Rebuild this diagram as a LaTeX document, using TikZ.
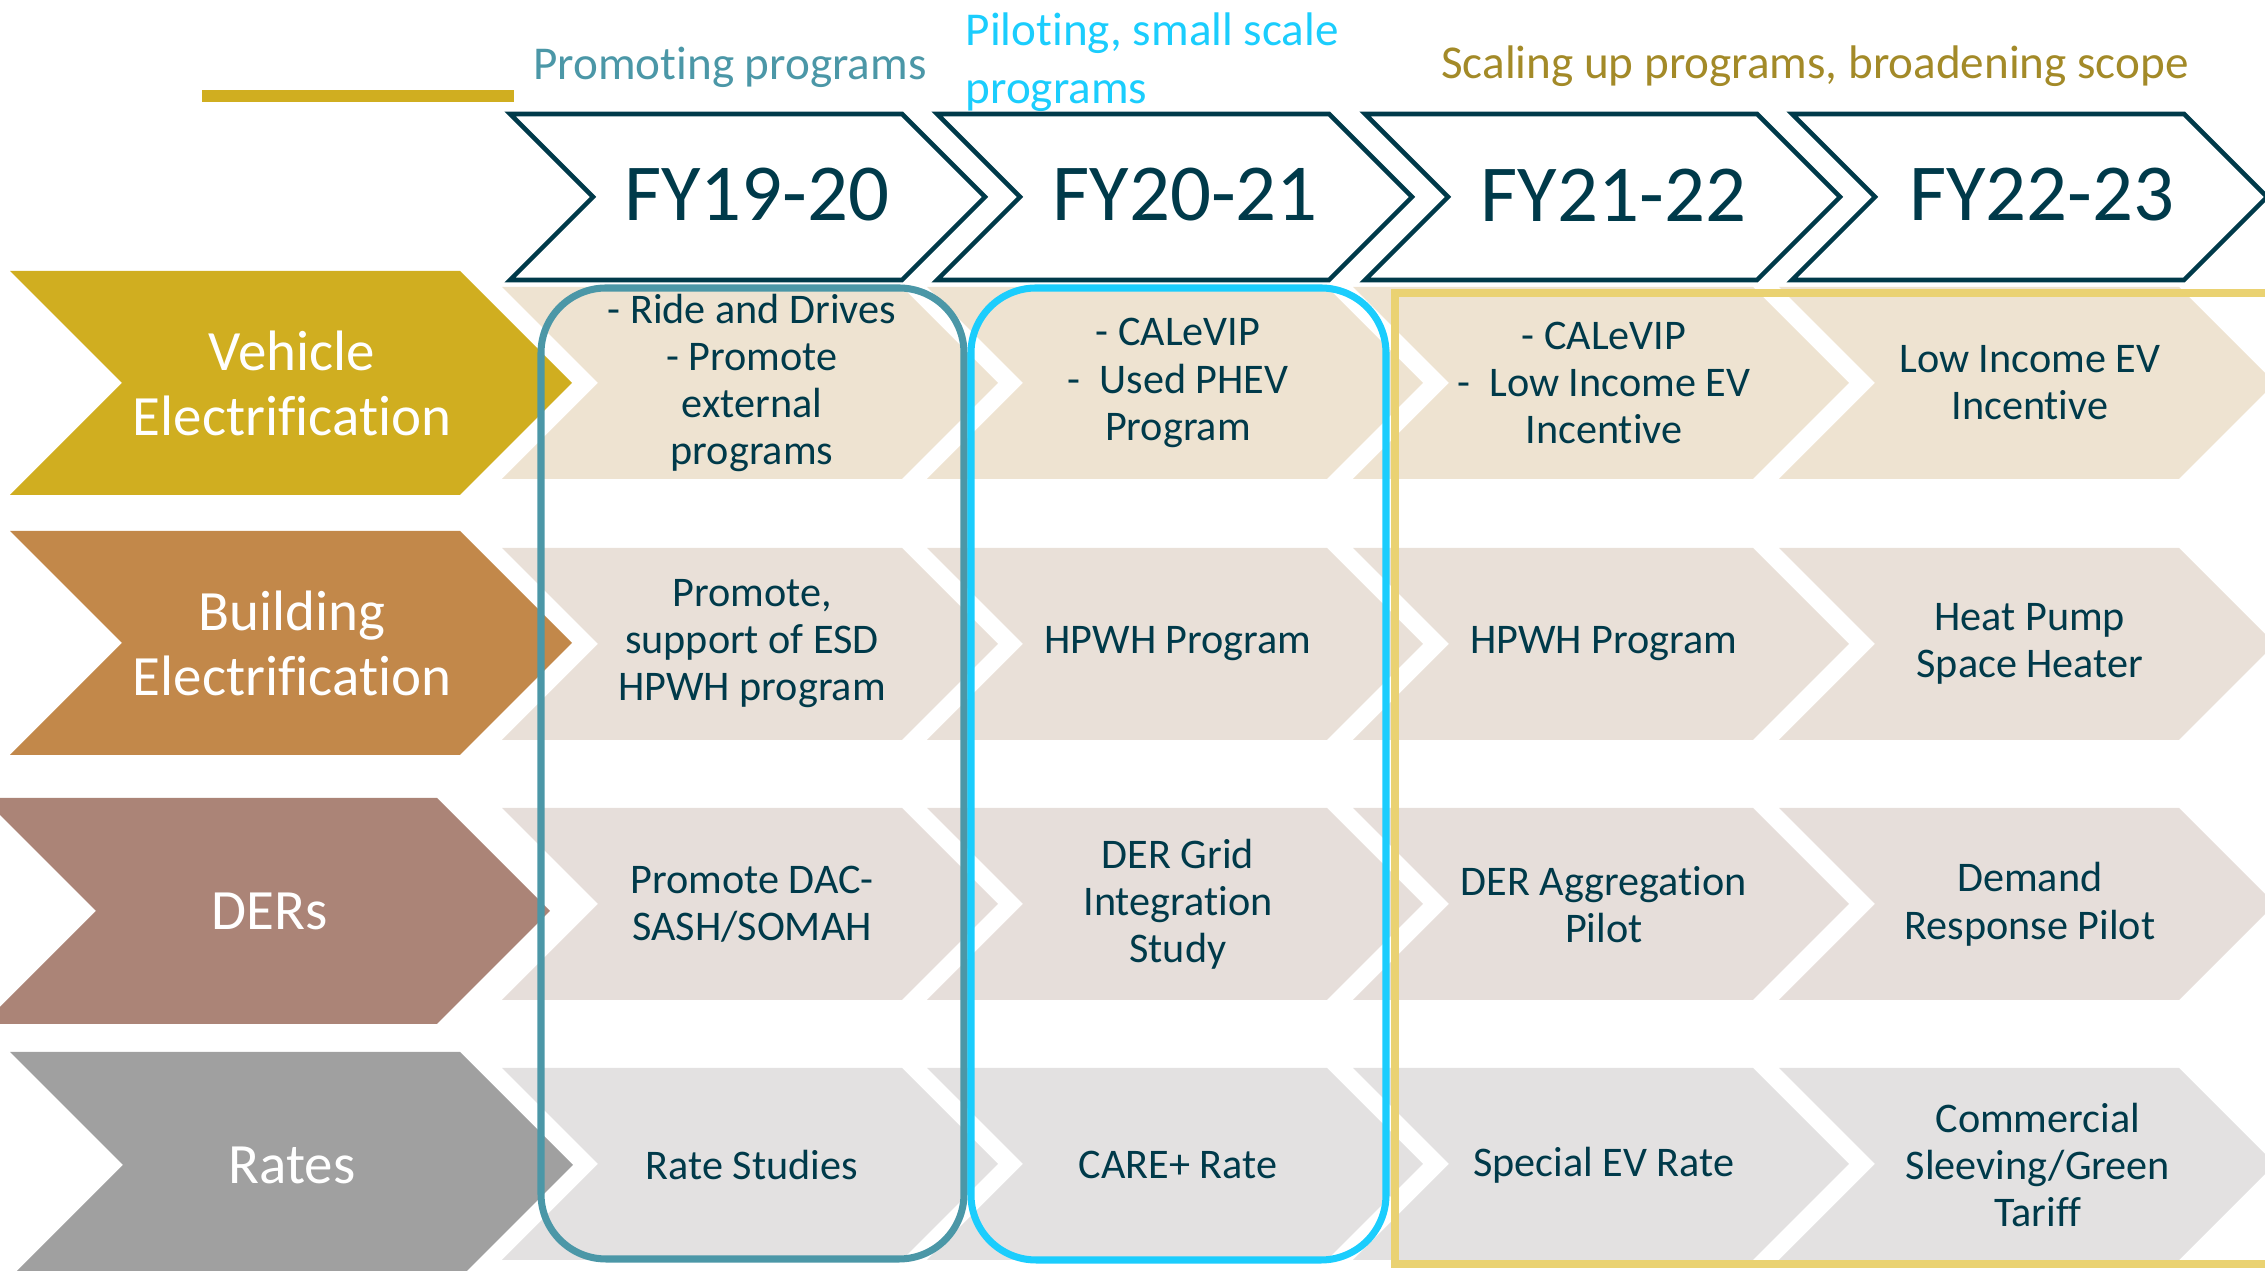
\documentclass[tikz,border=0pt]{standalone}
\usepackage{fontspec}
\setmainfont[Ligatures={NoCommon,NoContextual}]{Carlito}
\usepackage{xcolor}
\usetikzlibrary{positioning}
\definecolor{darkteal}{HTML}{003A4A}
\definecolor{vehyellow}{HTML}{D0AE20}
\definecolor{bldbrown}{HTML}{C2884A}
\definecolor{dermauve}{HTML}{AB8477}
\definecolor{rategrey}{HTML}{A0A0A0}
\definecolor{vehcell}{HTML}{EEE3D1}
\definecolor{bldcell}{HTML}{E9E0D8}
\definecolor{dercell}{HTML}{E6DEDA}
\definecolor{ratecell}{HTML}{E3E1E1}
\definecolor{promoteteal}{HTML}{4B97A7}
\definecolor{pilotcyan}{HTML}{1BCDFD}
\definecolor{scalegold}{HTML}{EAD272}
\definecolor{scaletext}{HTML}{A38A28}

% chevron outline: left x, middle y, top edge length, half height
\newcommand{\chevshape}[4]{(#1,#2-#4) -- ++(#3,0) -- ++(#4,#4) -- ++(-#4,#4) -- ++(-#3,0) -- ++(#4,-#4) -- cycle}

\begin{document}
\begin{tikzpicture}[x=0.01cm, y=-0.01cm,
    fylabel/.style={text=darkteal, font=\fontsize{23}{27}\selectfont},
    catlabel/.style={text=white, align=center, font=\fontsize{16.2}{18.5}\selectfont},
    cell/.style={text=darkteal, align=center, font=\fontsize{12}{13.4}\selectfont},
    phase/.style={font=\fontsize{13.4}{16.5}\selectfont, inner sep=0pt},
    fybox/.style={draw=darkteal, line width=1.3pt, fill=white, line join=miter},
    band/.style={line width=2pt, rounded corners=0.65cm}]
    \useasboundingbox (0,0) rectangle (2265,1271);

    % Program cells
    \fill[vehcell] \chevshape{502}{383}{400}{96};
    \fill[vehcell] \chevshape{927}{383}{400}{96};
    \fill[vehcell] \chevshape{1353}{383}{400}{96};
    \fill[vehcell] \chevshape{1779}{383}{400}{96};
    \fill[bldcell] \chevshape{502}{644}{400}{96};
    \fill[bldcell] \chevshape{927}{644}{400}{96};
    \fill[bldcell] \chevshape{1353}{644}{400}{96};
    \fill[bldcell] \chevshape{1779}{644}{400}{96};
    \fill[dercell] \chevshape{502}{904}{400}{96};
    \fill[dercell] \chevshape{927}{904}{400}{96};
    \fill[dercell] \chevshape{1353}{904}{400}{96};
    \fill[dercell] \chevshape{1779}{904}{400}{96};
    \fill[ratecell] \chevshape{502}{1164}{400}{96};
    \fill[ratecell] \chevshape{927}{1164}{400}{96};
    \fill[ratecell] \chevshape{1353}{1164}{400}{96};
    \fill[ratecell] \chevshape{1779}{1164}{400}{96};

    % Categories
    \fill[vehyellow] \chevshape{10}{383}{450}{112};
    \fill[bldbrown] \chevshape{10}{643}{450}{112};
    \fill[dermauve] \chevshape{-17}{911}{454}{113};
    \fill[rategrey] \chevshape{10}{1165}{450}{113};

    % Years
    \draw[fybox] \chevshape{510}{197}{392}{83};
    \draw[fybox] \chevshape{937}{197}{392}{83};
    \draw[fybox] \chevshape{1365}{197}{392}{83};
    \draw[fybox] \chevshape{1792}{197}{392}{83};
    \fill[vehyellow] (202,90) rectangle (514,102);

    % Phases
    \draw[band, promoteteal] (541,288) rectangle (964,1259);
    \draw[band, pilotcyan] (971,288) rectangle (1386,1260);
    \draw[scalegold, line width=2.3pt] (1395,293) rectangle (2320,1264);

    \node (promote) [phase, text=promoteteal, anchor=base] at (730,80) {Promoting programs};
    \node (piloting) [phase, text=pilotcyan, align=left, anchor=north west] at (965,12) {Piloting, small scale\\programs};
    \node (scaling) [phase, text=scaletext, anchor=base] at (1815,79) {Scaling up programs, broadening scope};

    \node (fy1) [fylabel] at (757,195) {FY19-20};
    \node (fy2) [fylabel, right of=fy1, node distance=4.28cm] {FY20-21};
    \node (fy3) [fylabel, right of=fy2, node distance=4.28cm] {FY21-22};
    \node (fy4) [fylabel, right of=fy3, node distance=4.28cm] {FY22-23};

    \node (veh) [catlabel] at (292,383) {Vehicle\\Electrification};
    \node (bld) [catlabel, below of=veh, node distance=2.6cm] {Building\\Electrification};
    \node (der) [catlabel] at (270,911) {DERs};
    \node (rate) [catlabel] at (292,1165) {Rates};

    % Cell texts
    \node (v1) [cell] at (752,383) {- Ride and Drives\\- Promote\\external\\programs};
    \node (v2) [cell, right of=v1, node distance=4.257cm] {- CALeVIP\\-~~Used PHEV\\Program};
    \node (v3) [cell, right of=v2, node distance=4.257cm] {- CALeVIP\\-~~Low Income EV\\Incentive};
    \node (v4) [cell, right of=v3, node distance=4.257cm] {Low Income EV\\Incentive};

    \node (b1) [cell, below of=v1, node distance=2.605cm] {Promote,\\support of ESD\\HPWH program};
    \node (b2) [cell, right of=b1, node distance=4.257cm] {HPWH Program};
    \node (b3) [cell, right of=b2, node distance=4.257cm] {HPWH Program};
    \node (b4) [cell, right of=b3, node distance=4.257cm] {Heat Pump\\Space Heater};

    \node (d1) [cell, below of=b1, node distance=2.605cm] {Promote DAC-\\SASH/SOMAH};
    \node (d2) [cell, right of=d1, node distance=4.257cm] {DER Grid\\Integration\\Study};
    \node (d3) [cell, right of=d2, node distance=4.257cm] {DER Aggregation\\Pilot};
    \node (d4) [cell, right of=d3, node distance=4.257cm] {Demand\\Response Pilot};

    \node (r1) [cell, below of=d1, node distance=2.605cm] {Rate Studies};
    \node (r2) [cell, right of=r1, node distance=4.257cm] {CARE+ Rate};
    \node (r3) [cell, right of=r2, node distance=4.257cm] {Special EV Rate};
    \node (r4) [cell, right of=r3, node distance=4.257cm, xshift=0.08cm] {Commercial\\Sleeving/Green\\Tariff};
\end{tikzpicture}
\end{document}
